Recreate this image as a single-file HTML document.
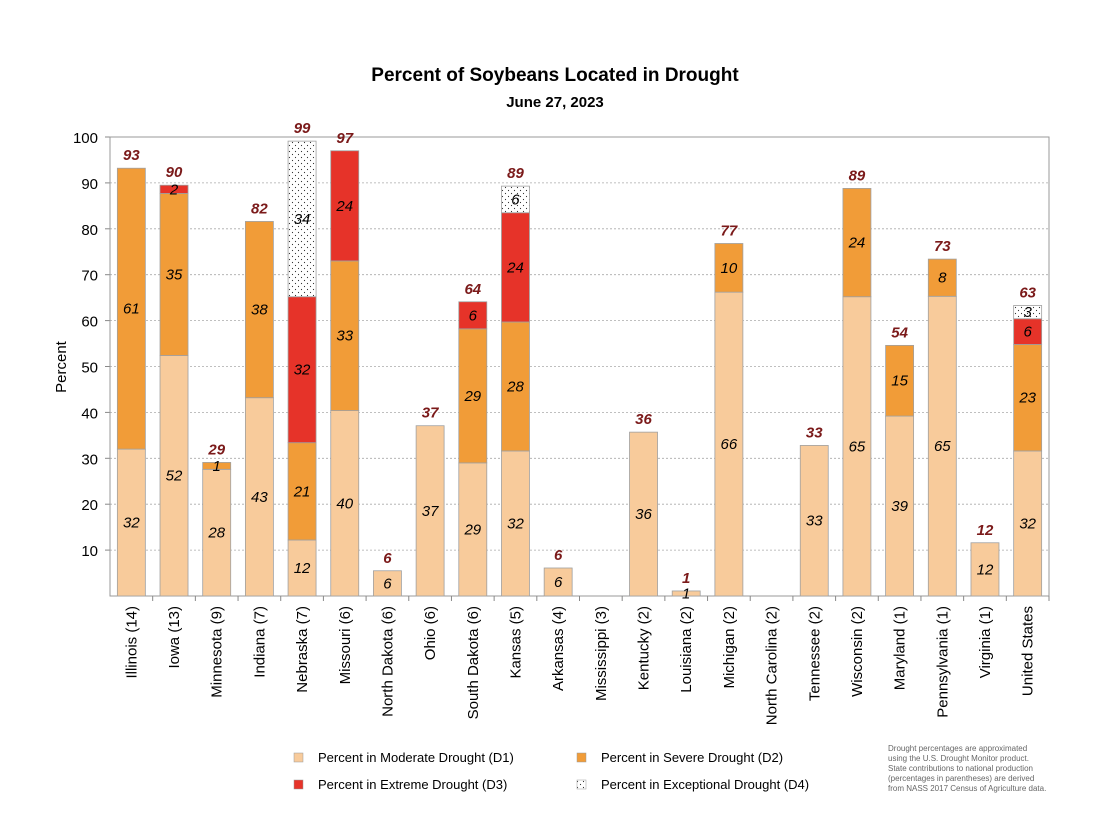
<!DOCTYPE html>
<html><head><meta charset="utf-8"><style>
body{margin:0;background:#fff;}
svg{display:block;font-family:"Liberation Sans",Arial,sans-serif;}
</style></head><body>
<svg id="chart" width="1110" height="838" viewBox="0 0 1110 838">
<defs>
<pattern id="dots" width="6" height="6" patternUnits="userSpaceOnUse">
<rect width="6" height="6" fill="#fff"/><circle cx="1.5" cy="1.5" r="0.6" fill="#333"/><circle cx="4.5" cy="4.5" r="0.6" fill="#333"/>
</pattern>
</defs>
<text x="555" y="81" text-anchor="middle" font-size="19" font-weight="bold">Percent of Soybeans Located in Drought</text>
<text x="555" y="107" text-anchor="middle" font-size="15" font-weight="bold">June 27, 2023</text>
<text transform="translate(66,367) rotate(-90)" text-anchor="middle" font-size="15">Percent</text>
<g id="grid"></g><g id="bars"></g><g id="labels"></g>
<g font-size="13">
<rect x="294" y="753" width="9" height="9" fill="#f8cb9b" stroke="#999" stroke-width="0.5"/>
<text x="318" y="762">Percent in Moderate Drought (D1)</text>
<rect x="577" y="753" width="9" height="9" fill="#f19c38" stroke="#999" stroke-width="0.5"/>
<text x="601" y="762">Percent in Severe Drought (D2)</text>
<rect x="294" y="780" width="9" height="9" fill="#e63329" stroke="#999" stroke-width="0.5"/>
<text x="318" y="789">Percent in Extreme Drought (D3)</text>
<rect x="577" y="780" width="9" height="9" fill="url(#dots)" stroke="#999" stroke-width="0.5"/>
<text x="601" y="789">Percent in Exceptional Drought (D4)</text>
</g>
<g font-size="8" fill="#666">
<text x="888" y="751">Drought percentages are approximated</text>
<text x="888" y="761">using the U.S. Drought Monitor product.</text>
<text x="888" y="771">State contributions to national production</text>
<text x="888" y="781">(percentages in parentheses) are derived</text>
<text x="888" y="791">from NASS 2017 Census of Agriculture data.</text>
</g>
</svg>
<script>
const categories=["Illinois (14)","Iowa (13)","Minnesota (9)","Indiana (7)","Nebraska (7)","Missouri (6)","North Dakota (6)","Ohio (6)","South Dakota (6)","Kansas (5)","Arkansas (4)","Mississippi (3)","Kentucky (2)","Louisiana (2)","Michigan (2)","North Carolina (2)","Tennessee (2)","Wisconsin (2)","Maryland (1)","Pennsylvania (1)","Virginia (1)","United States"];
const d1=[32,52.4,27.6,43.2,12.2,40.4,5.5,37.1,29,31.6,6.1,0,35.7,1.1,66.2,0,32.8,65.2,39.2,65.3,11.6,31.6];
const d2=[61.2,35.3,1.5,38.4,21.2,32.6,0,0,29.2,28.1,0,0,0,0,10.6,0,0,23.6,15.4,8.1,0,23.2];
const d3=[0,1.8,0,0,31.8,24,0,0,5.9,23.8,0,0,0,0,0,0,0,0,0,0,0,5.6];
const d4=[0,0,0,0,33.9,0,0,0,0,5.8,0,0,0,0,0,0,0,0,0,0,0,2.9];
const d1Labels=["32","52","28","43","12","40","6","37","29","32","6","","36","1","66","","33","65","39","65","12","32"];
const d2Labels=["61","35","1","38","21","33","","","29","28","","","","","10","","","24","15","8","","23"];
const d3Labels=["","2","","","32","24","","","6","24","","","","","","","","","","","","6"];
const d4Labels=["","","","","34","","","","","6","","","","","","","","","","","","3"];
const totals=["93","90","29","82","99","97","6","37","64","89","6","","36","1","77","","33","89","54","73","12","63"];
const yTicks=[10,20,30,40,50,60,70,80,90,100];
const NS="http://www.w3.org/2000/svg";
const L=110,R=1049,T=137,B=596,slot=(R-L)/categories.length,bw=28;
const y=v=>B-(v/100)*(B-T);
const xs=i=>L+slot*i+(slot-bw)/2;
function mk(tag,attrs,parent,txt){const e=document.createElementNS(NS,tag);for(const k in attrs)e.setAttribute(k,attrs[k]);if(txt!==undefined)e.textContent=txt;parent.appendChild(e);return e;}
const grid=document.getElementById('grid'),bars=document.getElementById('bars'),labels=document.getElementById('labels');
yTicks.forEach(t=>{
 if(t<100){const g=mk('line',{x1:L,x2:R,y1:y(t),y2:y(t),stroke:'#aaa','stroke-dasharray':'2,2','stroke-width':0.8},grid);
 
 }
 const tl=mk('text',{x:L-12,y:y(t)+6,'text-anchor':'end','font-size':15},grid,String(t));
 
 
 mk('line',{x1:L-5,x2:L,y1:y(t),y2:y(t),stroke:'#888'},grid);
});
mk('rect',{x:L,y:T,width:R-L,height:B-T,fill:'none',stroke:'#999','stroke-width':1},grid);
const series=[[d1,'#f8cb9b',d1Labels],[d2,'#f19c38',d2Labels],[d3,'#e63329',d3Labels],[d4,'url(#dots)',d4Labels]];
categories.forEach((c,i)=>{
 let base=0;
 series.forEach((s,si)=>{
  const v=s[0][i];if(v<=0)return;
  const r=mk('rect',{x:xs(i),y:y(base+v),width:bw,height:y(base)-y(base+v),fill:s[1],stroke:'#a0a0a0','stroke-width':0.8},bars);
  
  
  if(s[2][i]){const t=mk('text',{x:xs(i)+bw/2,y:y(base+v/2)+5,'text-anchor':'middle','font-size':15,'font-style':'italic'},labels,s[2][i]);
  
  }
  base+=v;
 });
 if(totals[i]){const t=mk('text',{x:xs(i)+bw/2,y:y(base)-8,'text-anchor':'middle','font-size':15,'font-weight':'bold','font-style':'italic',fill:'#7b1a1a'},labels,totals[i]);
 
 }
 mk('line',{x1:L+slot*(i+1),x2:L+slot*(i+1),y1:B,y2:B+5,stroke:'#888'},grid);
 const cx=L+slot*i+slot/2+5;
 const cl=mk('text',{transform:`translate(${cx},${B+10}) rotate(-90)`,'text-anchor':'end','font-size':15},labels,c);
 
 
});
</script>
</body></html>
